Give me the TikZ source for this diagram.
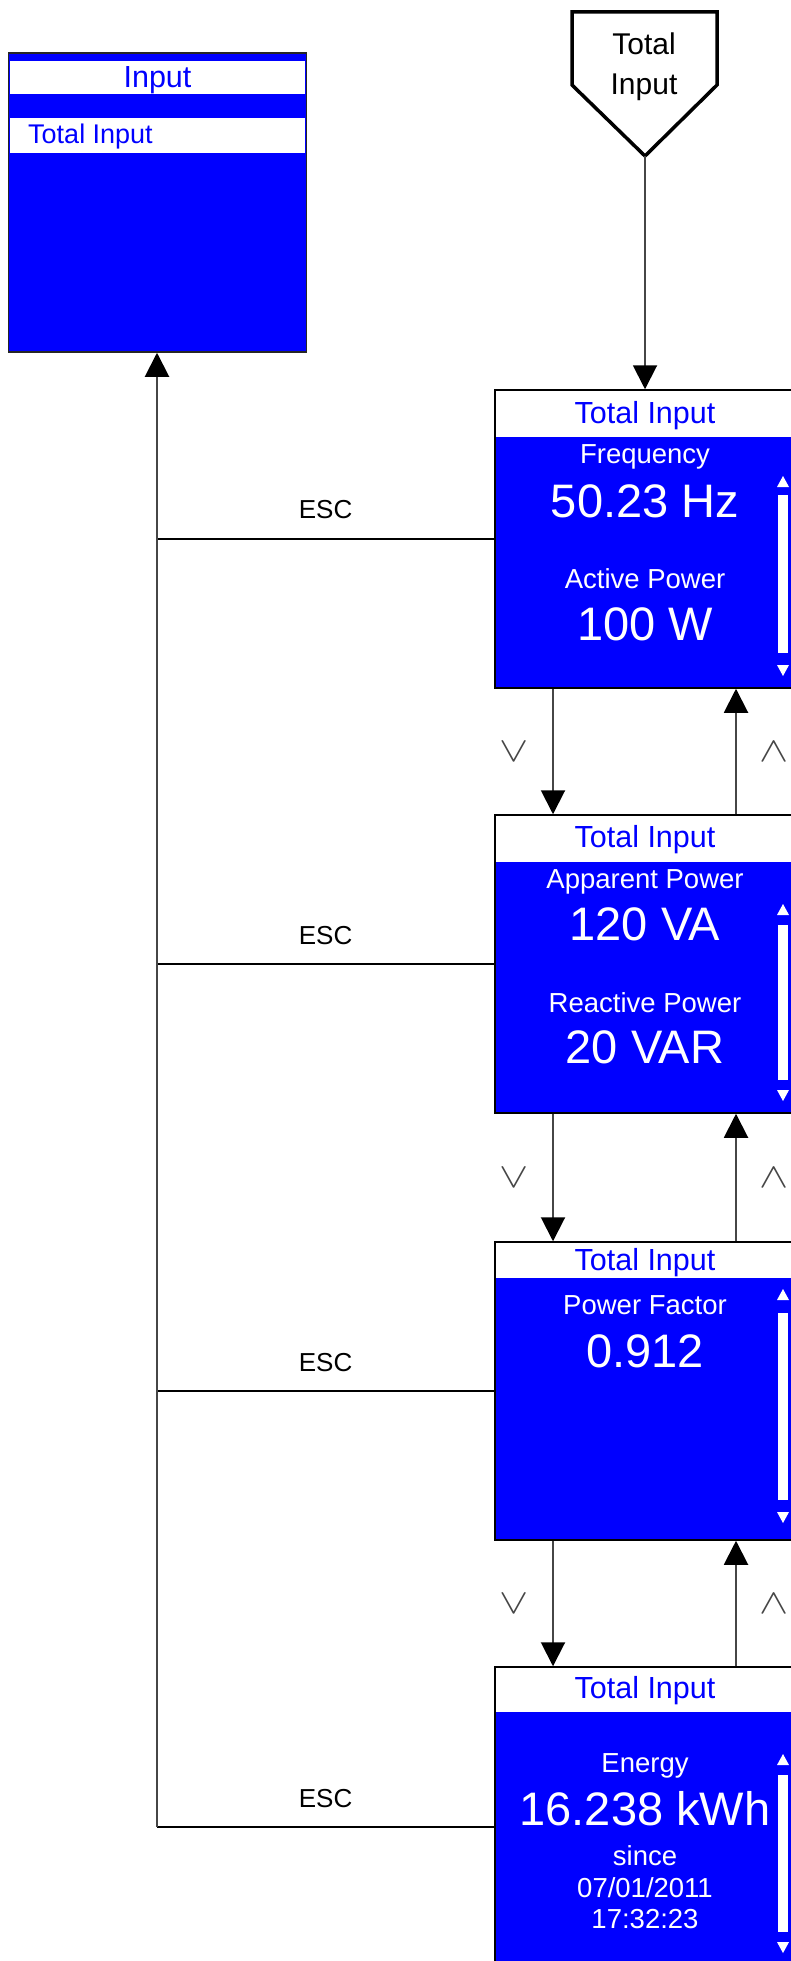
\RequirePackage{fix-cm}
\documentclass[tikz,border=0pt]{standalone}
\usepackage{fontspec}
\setmainfont{Liberation Sans}
\usepackage{tikz}
\usetikzlibrary{arrows.meta,positioning,calc}
\definecolor{scrblue}{RGB}{0,0,255}
\definecolor{linegray}{RGB}{70,70,70}

\begin{document}
\begin{tikzpicture}[x=1pt,y=-1pt,>=Latex,
  screen/.style={draw=black,line width=1.5pt,fill=scrblue,minimum width=300pt,minimum height=298pt,inner sep=0pt},
  ttl/.style={text=scrblue,font=\fontsize{30.5}{32}\selectfont,anchor=base,inner sep=0pt},
  small/.style={text=white,font=\fontsize{27.5}{30}\selectfont,anchor=base,inner sep=0pt},
  big/.style={text=white,font=\fontsize{47}{50}\selectfont,anchor=base,inner sep=0pt},
  link/.style={draw=linegray,line width=2pt,-{Triangle[length=24pt,width=24pt,fill=black,color=black]}},
  escline/.style={draw=black,line width=1.5pt},
  esc/.style={font=\fontsize{26}{26}\selectfont,inner sep=0pt,above=19pt},
  key/.style={text=linegray,font=\fontsize{35}{35}\selectfont,inner sep=0pt,xscale=1.25}]
  \useasboundingbox (0,0) rectangle (791,1961);

  % menu screen
  \node[draw=black!85,line width=1.5pt,fill=scrblue,minimum width=298pt,minimum height=299pt,inner sep=0pt] (menu) at (157.5,202.5) {};
  \fill[white] (10,61) rectangle (305,94);
  \node[ttl] (menutitle) at (157.5,88) {Input};
  \fill[white] (10,118) rectangle (305,153);
  \node[ttl,font=\fontsize{27}{30}\selectfont,anchor=base west] (menuitem) at (28,144) {Total Input};

  % entry point
  \draw[line width=3.5pt,fill=white,line join=miter] (572,12) -- (717,12) -- (717,85) -- (645,156) -- (572,85) -- cycle;
  \node[font=\fontsize{30}{40}\selectfont,align=center,anchor=base,inner sep=0pt] (start) at (644,95) {Total\\Input};
  \coordinate (tip) at (645,156);

  % screens
  \node[screen] (s1) at (645,539) {};
  \fill[white] (496,391) rectangle (795,437);
  \node[ttl] (t1) at (645,423) {Total Input};
  \node[small] (freq) at (645,463) {Frequency};
  \node[big] (freqval) at (645,517) {50.23 Hz};
  \node[small] (actp) at (645,588) {Active Power};
  \node[big] (actpval) at (645,640) {100 W};

  \node[screen] (s2) at (645,964) {};
  \fill[white] (496,816) rectangle (795,862);
  \node[ttl] (t2) at (645,847) {Total Input};
  \node[small] (appp) at (645,888) {Apparent Power};
  \node[big] (apppval) at (645,940) {120 VA};
  \node[small] (reap) at (645,1012) {Reactive Power};
  \node[big] (reapval) at (645,1063) {20 VAR};

  \node[screen] (s3) at (645,1391) {};
  \fill[white] (496,1243) rectangle (795,1278);
  \node[ttl] (t3) at (645,1270) {Total Input};
  \node[small] (pf) at (645,1314) {Power Factor};
  \node[big] (pfval) at (645,1367) {0.912};

  \node[screen] (s4) at (645,1816) {};
  \fill[white] (496,1668) rectangle (795,1712);
  \node[ttl] (t4) at (645,1698) {Total Input};
  \node[small] (energy) at (645,1772) {Energy};
  \node[big] (energyval) at (645,1825) {16.238 kWh};
  \node[small] (since) at (645,1865) {since};
  \node[small] (date) at (645,1897) {07/01/2011};
  \node[small] (time) at (645,1928) {17:32:23};

  % scroll bars
  \foreach \t/\u/\a/\b/\d in {390/86/105/263/275,815/89/110/265/275,1242/47/71/258/270,1667/87/108/265/275} {
    \fill[white] (783,{\t+\u}) -- (789,{\t+\u+11}) -- (777,{\t+\u+11}) -- cycle;
    \fill[white] (778,{\t+\a}) rectangle (788,{\t+\b});
    \fill[white] (777,{\t+\d}) -- (789,{\t+\d}) -- (783,{\t+\d+11}) -- cycle;
  }

  % navigation
  \draw[link] (tip) -- (s1.north);
  \foreach \a/\b in {s1/s2,s2/s3,s3/s4} {
    \draw[link] ([xshift=-92pt]\a.south) -- node[key,left=23pt] {$\vee$} ([xshift=-92pt]\b.north);
    \draw[link] ([xshift=91pt]\b.north) -- node[key,right=22pt] {$\wedge$} ([xshift=91pt]\a.south);
  }

  % escape back to menu
  \coordinate (esc4) at (157,1827);
  \foreach \s in {s1,s2,s3}
    \draw[escline] (\s.west) -- (\s.west -| esc4) node[midway,esc] {ESC};
  \draw[escline] (esc4 -| s4.west) -- (esc4) node[midway,esc] {ESC};
  \draw[link] (esc4) -- (esc4 |- menu.south);
\end{tikzpicture}
\end{document}
